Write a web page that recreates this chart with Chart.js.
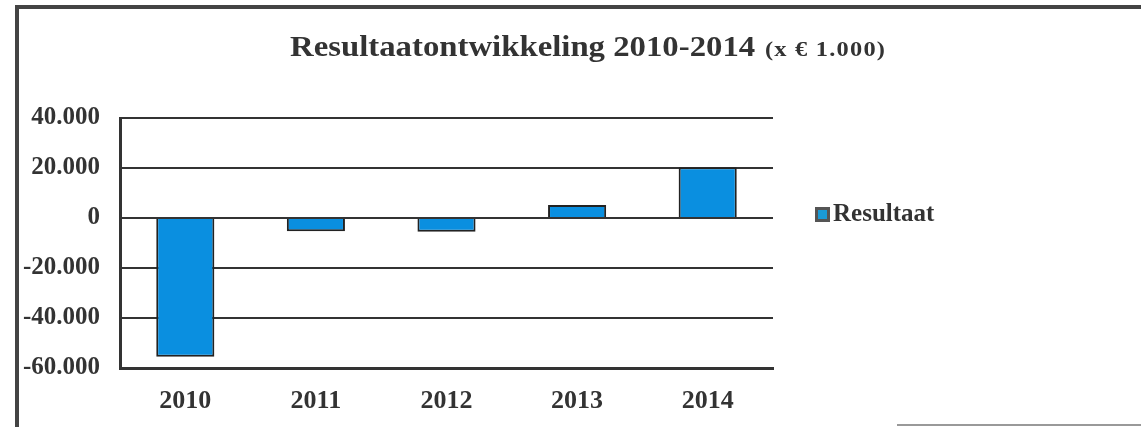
<!DOCTYPE html>
<html>
<head>
<meta charset="utf-8">
<script src="https://cdn.jsdelivr.net/npm/chart.js@4/dist/chart.umd.min.js"></script>
<style>
  html, body { margin: 0; padding: 0; background: #fff; }
  #wrap { position: relative; width: 1141px; height: 427px; overflow: hidden; background: #fff; }
  #c { position: absolute; left: 0; top: 0; }
  .frameTop { position: absolute; left: 15px; top: 5px; width: 1126px; height: 4px; background: #444; }
  .frameLeft { position: absolute; left: 15px; top: 5px; width: 4px; height: 422px; background: #444; }
  .frameBottom { position: absolute; left: 897px; top: 424px; width: 244px; height: 2px; background: #999; }
  .t1 { position: absolute; left: 290px; top: 30px; font: bold 29px "Liberation Serif", "Times New Roman", serif; color: #333; white-space: nowrap; transform: scaleX(1.13); transform-origin: left top; }
  .t2 { position: absolute; left: 765px; top: 38px; font: bold 20px "Liberation Serif", "Times New Roman", serif; color: #333; white-space: nowrap; letter-spacing: 1px; transform: scaleX(1.22); transform-origin: left top; }
  .legend { position: absolute; left: 815px; top: 199px; font: bold 25px "Liberation Serif", "Times New Roman", serif; color: #333; white-space: nowrap; display: flex; align-items: center; }
  .legend .box { width: 9px; height: 9px; border: 3px solid #555; background: #1a9ad6; margin-right: 3px; margin-top: 2px; }
</style>
</head>
<body>
<div id="wrap">
  <canvas id="c" width="1141" height="427"></canvas>
  <div class="frameTop"></div>
  <div class="frameLeft"></div>
  <div class="frameBottom"></div>
  <div class="t1">Resultaatontwikkeling 2010-2014</div>
  <div class="t2">(x € 1.000)</div>
  <div class="legend"><span class="box"></span><span id="legendText"></span></div>
</div>
<script>
const categories = ['2010', '2011', '2012', '2013', '2014'];
const seriesName = 'Resultaat';
const resultaat = [-55500, -5300, -5500, 5200, 20300];
const yTickValues = [-60000, -40000, -20000, 0, 20000, 40000];
const yTickLabels = ['-60.000', '-40.000', '-20.000', '0', '20.000', '40.000'];

document.getElementById('legendText').textContent = seriesName;

const serif = '"Liberation Serif", "Times New Roman", serif';

new Chart(document.getElementById('c'), {
  type: 'bar',
  data: {
    labels: categories,
    datasets: [{
      label: seriesName,
      data: resultaat,
      backgroundColor: '#0a8fe0',
      borderColor: '#222',
      borderWidth: 2,
      categoryPercentage: 1,
      barPercentage: 0.445
    }]
  },
  options: {
    responsive: false,
    devicePixelRatio: 1,
    animation: false,
    layout: { padding: { left: 0, top: 118, right: 368, bottom: 0 } },
    plugins: {
      legend: { display: false },
      title: { display: false },
      tooltip: { enabled: false }
    },
    scales: {
      x: {
        grid: { display: false, drawTicks: false },
        border: { display: true, color: '#333', width: 3 },
        ticks: { color: '#333', font: { family: serif, size: 26, weight: 'bold' }, padding: 18 },
        afterFit: s => { s.height = 59; }
      },
      y: {
        min: -60000,
        max: 40000,
        afterBuildTicks: s => { s.ticks = yTickValues.map(v => ({ value: v })); },
        grid: { color: '#333', lineWidth: 2, drawTicks: false },
        border: { display: true, color: '#333', width: 3 },
        ticks: {
          color: '#333',
          font: { family: serif, size: 25, weight: 'bold' },
          padding: 20,
          callback: v => yTickLabels[yTickValues.indexOf(v)]
        },
        afterFit: s => { s.width = 120; }
      }
    }
  }
});
</script>
</body>
</html>
